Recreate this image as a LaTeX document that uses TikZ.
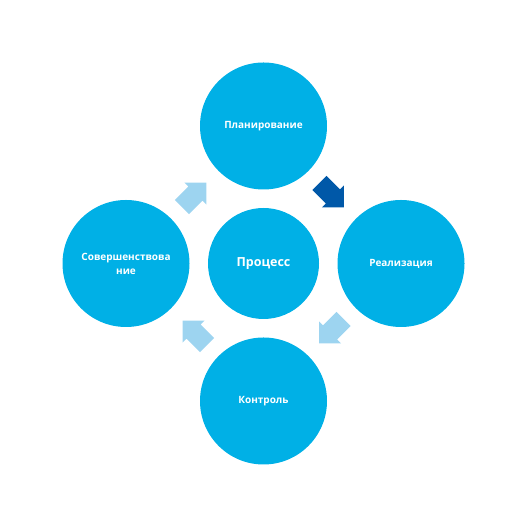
\documentclass[tikz,border=0pt]{standalone}
\usepackage{fontspec}
\setmainfont{Open Sans}
\definecolor{circ}{RGB}{0,176,230}
\definecolor{darkarr}{RGB}{0,88,168}
\definecolor{lightarr}{RGB}{157,212,240}
\begin{document}
\begin{tikzpicture}[x=1pt,y=1pt,
  bigc/.style={circle,fill=circ,minimum size=127pt,inner sep=0pt,text=white,font=\bfseries\fontsize{10}{14}\selectfont,align=center},
  midc/.style={circle,fill=circ,minimum size=111pt,inner sep=0pt,text=white,font=\bfseries\fontsize{12.5}{16}\selectfont},
  blockarrow/.pic={\fill[pic actions] (-17,-10) -- (2,-10) -- (2,-15.5) -- (17.5,0) -- (2,15.5) -- (2,10) -- (-17,10) -- cycle;}]
\useasboundingbox (0,0) rectangle (527,526);
\node[midc] (proc) at (263.5,262.5) {Процесс};
\node[bigc] (plan) at (263.5,400) {Планирование};
\node[bigc] (real) at (401,262.5) {Реализация};
\node[bigc] (ctrl) at (263.5,125) {Контроль};
\node[bigc] (impr) at (126,262.5) {Совершенствова\\ние};
\pic[fill=darkarr,rotate=-45] (a1) at (331.5,331) {blockarrow};
\pic[fill=lightarr,rotate=-135] (a2) at (331.5,195) {blockarrow};
\pic[fill=lightarr,rotate=135] (a3) at (195,193) {blockarrow};
\pic[fill=lightarr,rotate=45] (a4) at (194,331) {blockarrow};
\end{tikzpicture}
\end{document}
